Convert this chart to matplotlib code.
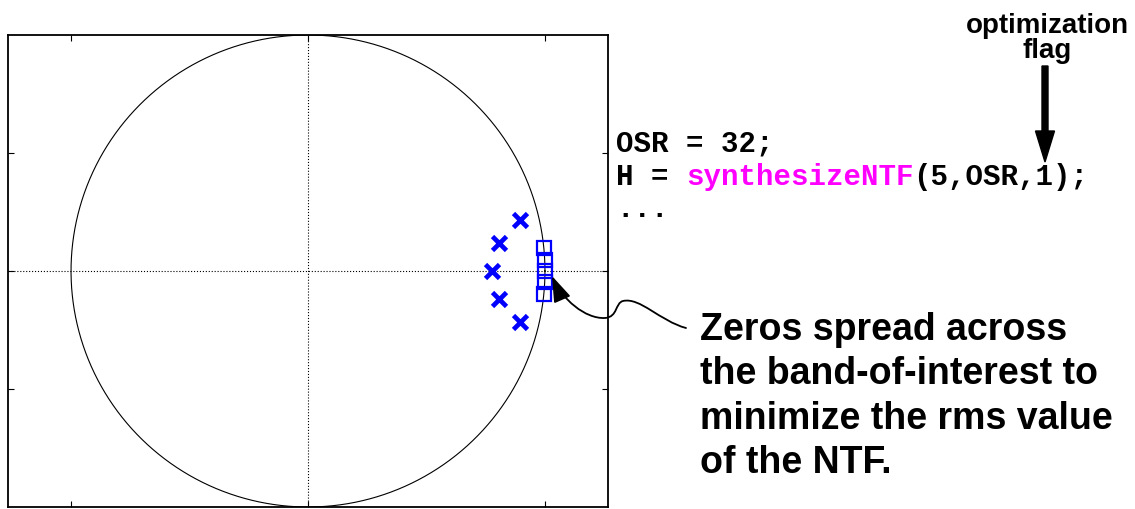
import numpy as np
import matplotlib
matplotlib.use("Agg")
import matplotlib.pyplot as plt
from matplotlib.path import Path
from matplotlib.patches import FancyArrowPatch, FancyArrow
from matplotlib.transforms import IdentityTransform

# NTF poles / zeros
pole_re = [0.894, 0.806, 0.776, 0.806, 0.894]
pole_im = [0.218, 0.119, 0.0, -0.119, -0.218]
zero_re = [0.995, 0.999, 1.0, 0.999, 0.995]
zero_im = [0.097, 0.048, 0.0, -0.048, -0.097]

code_lines = ["OSR = 32;", "H = synthesizeNTF(5,OSR,1);", "..."]
note_lines = ["Zeros spread across", "the band-of-interest to",
              "minimize the rms value", "of the NTF."]
flag_lines = ["optimization", "flag"]

W, H = 1135, 510
fig = plt.figure(figsize=(W / 100, H / 100), dpi=100)
ax = fig.add_axes([8 / W, 2 / H, 600 / W, 472 / H])

# unit circle + axes lines
th = np.linspace(0, 2 * np.pi, 400)
ax.plot(np.cos(th), np.sin(th), color="k", lw=0.8)
ax.axhline(0, color="k", ls=":", lw=0.8)
ax.axvline(0, color="k", ls=":", lw=0.8)

ax.plot(pole_re, pole_im, ls="none", marker="x", ms=10, mew=3.4, color="#0000ff")
ax.plot(zero_re, zero_im, ls="none", marker="s", ms=9.5, mew=1.6,
        mfc="none", mec="#0000ff")

ax.set_xlim(-1.266, 1.266)
ax.set_ylim(-1.0, 1.0)
ax.set_xticks([-1, 0, 1])
ax.set_yticks([-0.5, 0, 0.5])
ax.tick_params(direction="in", length=4.5, width=0.8, top=True, right=True,
               labelbottom=False, labelleft=False)
for s in ax.spines.values():
    s.set_linewidth(1.3)

# code snippet (monospace, coloured function name)
fs_code = 21
cw = 0.6 * fs_code * 100 / 72  # char advance in px
x0 = 616
base = [152, 185, 217]
mono = dict(family="Liberation Mono", fontweight="bold", fontsize=fs_code,
            va="baseline", ha="left")
fig.text(x0 / W, 1 - base[0] / H, code_lines[0], color="k", **mono)
fig.text(x0 / W, 1 - base[1] / H, "H = ", color="k", **mono)
fig.text((x0 + 4 * cw) / W, 1 - base[1] / H, "synthesizeNTF", color="#ff00ff", **mono)
fig.text((x0 + 17 * cw) / W, 1 - base[1] / H, "(5,OSR,1);", color="k", **mono)
fig.text(x0 / W, 1 - base[2] / H, code_lines[2], color="k", **mono)

# explanation text
sans = dict(family="Liberation Sans", fontweight="bold", color="k")
for i, line in enumerate(note_lines):
    fig.text(700 / W, 1 - (340 + 44.3 * i) / H, line, fontsize=27,
             va="baseline", ha="left", **sans)

for i, line in enumerate(flag_lines):
    fig.text(1047 / W, 1 - (33 + 25 * i) / H, line, fontsize=20,
             ha="center", va="baseline", **sans)

# flag arrow (display pixels)
fig.add_artist(FancyArrow(1045, H - 67, 0, -96, width=6, head_width=19,
                          head_length=31, length_includes_head=True,
                          color="k", transform=IdentityTransform()))

# curved arrow pointing at the zeros
pts = [(686, 329), (660, 322), (640, 298), (623, 302),
       (615, 304), (618, 318), (605, 319),
       (585, 320), (562, 300), (552, 277)]
verts = [(x, H - y) for x, y in pts]
codes = [Path.MOVETO] + [Path.CURVE4] * 9
arr = FancyArrowPatch(path=Path(verts, codes),
                      arrowstyle="-|>,head_length=1.6,head_width=0.55",
                      mutation_scale=10, lw=1.3, color="k",
                      transform=IdentityTransform())
fig.add_artist(arr)

fig.savefig("out.png", dpi=100)
